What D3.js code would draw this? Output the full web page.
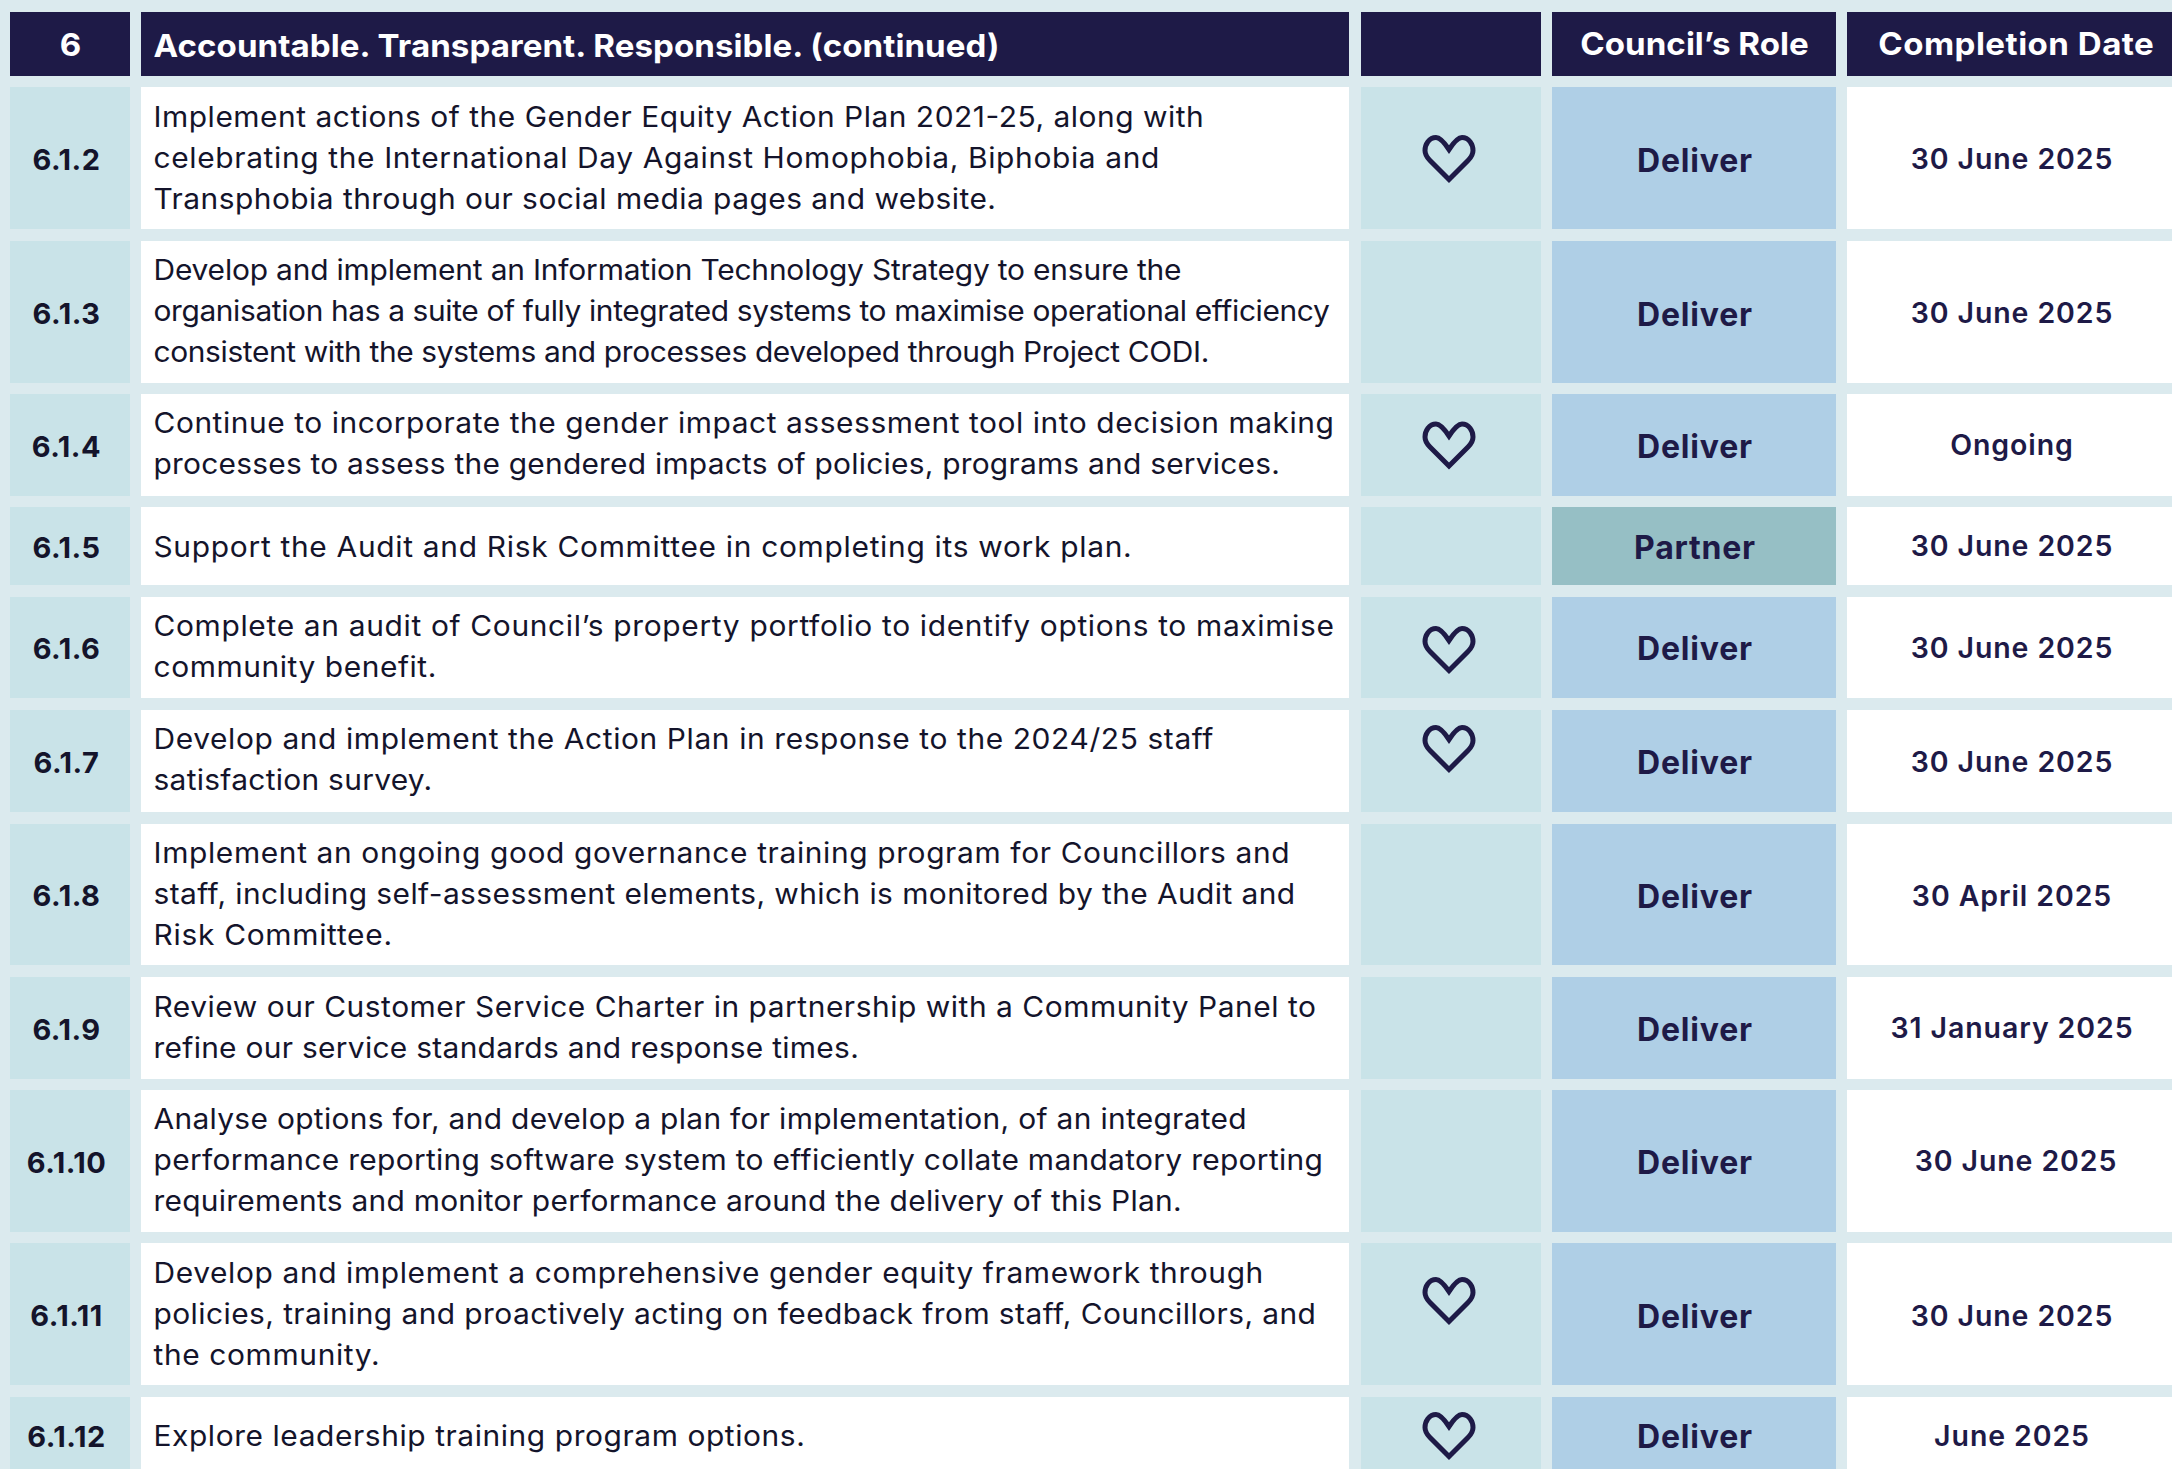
<!DOCTYPE html>
<html><head><meta charset="utf-8">
<script src="https://cdnjs.cloudflare.com/ajax/libs/d3/7.8.5/d3.min.js"></script>
<style>html,body{margin:0;padding:0;background:#DBEAEE;overflow:hidden}svg{display:block}</style>
</head><body><script>
const headerLabels=["6","Accountable. Transparent. Responsible. (continued)","","Council’s Role","Completion Date"];
const ids=["6.1.2","6.1.3","6.1.4","6.1.5","6.1.6","6.1.7","6.1.8","6.1.9","6.1.10","6.1.11","6.1.12"];
const actions=[
["Implement actions of the Gender Equity Action Plan 2021-25, along with","celebrating the International Day Against Homophobia, Biphobia and","Transphobia through our social media pages and website."],
["Develop and implement an Information Technology Strategy to ensure the","organisation has a suite of fully integrated systems to maximise operational efficiency","consistent with the systems and processes developed through Project CODI."],
["Continue to incorporate the gender impact assessment tool into decision making","processes to assess the gendered impacts of policies, programs and services."],
["Support the Audit and Risk Committee in completing its work plan."],
["Complete an audit of Council’s property portfolio to identify options to maximise","community benefit."],
["Develop and implement the Action Plan in response to the 2024/25 staff","satisfaction survey."],
["Implement an ongoing good governance training program for Councillors and","staff, including self-assessment elements, which is monitored by the Audit and","Risk Committee."],
["Review our Customer Service Charter in partnership with a Community Panel to","refine our service standards and response times."],
["Analyse options for, and develop a plan for implementation, of an integrated","performance reporting software system to efficiently collate mandatory reporting","requirements and monitor performance around the delivery of this Plan."],
["Develop and implement a comprehensive gender equity framework through","policies, training and proactively acting on feedback from staff, Councillors, and","the community."],
["Explore leadership training program options."]];
const hearts=[1,0,1,0,1,1,0,0,0,1,1];
const roles=["Deliver","Deliver","Deliver","Partner","Deliver","Deliver","Deliver","Deliver","Deliver","Deliver","Deliver"];
const dates=["30 June 2025","30 June 2025","Ongoing","30 June 2025","30 June 2025","30 June 2025","30 April 2025","31 January 2025","30 June 2025","30 June 2025","June 2025"];

// layout (pixels, separate from the values above)
const W=2172,H=1469,S=2172/1568,SX=1.05;
const cols=["id","action","heart","role","date"];
const colLeft=d3.scaleOrdinal().domain(cols).range([10,141,1361,1552,1847]);
const colRight=d3.scaleOrdinal().domain(cols).range([130,1349,1541,1836,2172]);
const rowTop=d3.scaleOrdinal().domain(ids).range([87,241,394,507,597,710,824,977,1090,1243,1397]);
const rowBot=d3.scaleOrdinal().domain(ids).range([229,383,496,585,698,812,965,1079,1232,1385,1480]);
const lineEnds=[[869,837,719],[853,960,873],[963,924],[817],[963,315],[876,312],[931,935,283],[950,620],[900,955,853],[912,950,274],[581]];
const textShift=[-0.2,-1.4,-1.5,0.5,-1.5,-1.3,-0.8,-0.7,-0.7,-0.2,1.2];
const roleShift=[14.2,14.2,13,13,12.8,13,13,12.5,12.9,14,13];
const dateShift=[11,11,10,10,10,10.5,11.5,10,10,12,11];
const heartCentre={"6.1.2":158.5,"6.1.4":445,"6.1.6":649.5,"6.1.7":748.5,"6.1.11":1300.5,"6.1.12":1435.5};
const roleFill=d3.scaleOrdinal().domain(["Deliver","Partner"]).range(["#AFCFE6","#96BFC5"]);
const navy="#1E1A47", ink="#14142b", font="Inter, sans-serif", textX=153.5;
const svg=d3.select("body").append("svg").attr("width",W).attr("height",H);
svg.append("rect").attr("width",W).attr("height",H).attr("fill","#DBEAEE");
// header
const hdr=svg.append("g");
hdr.selectAll("rect").data(cols).join("rect")
 .attr("x",colLeft).attr("y",12).attr("width",c=>colRight(c)-colLeft(c)).attr("height",64).attr("fill",navy);
const hdrX=[70.6,153.5,0,1694.5,2016], hdrY=[56,57,54,54.5,54.5], hdrLen=[null,846,null,228.5,275.6];
hdr.selectAll("text").data(cols).join("text")
 .attr("transform",(c,i)=>`translate(${hdrX[i]},${hdrY[i]}) scale(${SX},1)`)
 .attr("text-anchor",(c,i)=>i==1?"start":"middle")
 .attr("fill","#fff").attr("font-family",font).attr("font-weight",700).attr("font-size",31.5)
 .each(function(c,i){if(hdrLen[i])d3.select(this).attr("textLength",hdrLen[i]/SX).attr("lengthAdjust","spacing");})
 .text((c,i)=>headerLabels[i]);
// rows
const rows=svg.selectAll("g.row").data(ids.map((id,i)=>({id,i,lines:actions[i],heart:hearts[i],role:roles[i],date:dates[i]}))).join("g").attr("class","row");
const cell=(c,fill)=>rows.append("rect").attr("x",colLeft(c)).attr("y",d=>rowTop(d.id)).attr("width",colRight(c)-colLeft(c)).attr("height",d=>rowBot(d.id)-rowTop(d.id)).attr("fill",fill);
cell("id","#C9E3E8");cell("action","#fff");cell("heart","#C9E3E8");
cell("role",d=>roleFill(d.role));cell("date","#fff");
const mid=d=>d.id=="6.1.12"?1435:(rowTop(d.id)+rowBot(d.id))/2;
rows.append("text").attr("x",66.5).attr("y",d=>mid(d)+11.5).attr("text-anchor","middle")
 .attr("font-family",font).attr("font-weight",700).attr("font-size",29).attr("letter-spacing",0.5).attr("fill",ink).text(d=>d.id);
rows.each(function(d){
 const n=d.lines.length, base=mid(d)+10-(n-1)*20.5+textShift[d.i];
 d3.select(this).selectAll("text.l").data(d.lines).join("text").attr("class","l")
  .attr("transform",(l,i)=>`translate(${textX},${base+i*41}) scale(${SX},1)`)
  .attr("font-family",font).attr("font-size",28.5)
  .attr("textLength",(l,i)=>(lineEnds[d.i][i]*S-textX)/SX).attr("lengthAdjust","spacing")
  .attr("fill",ink).text(l=>l);
});
const heart="M0,-9 C-4,-15 -9,-21 -13,-21 C-20,-21 -24,-14 -24,-8 C-24,-3 -21,0 -19,2 L0,21 L19,2 C21,0 24,-3 24,-8 C24,-14 20,-21 13,-21 C9,-21 4,-15 0,-9 Z";
rows.filter(d=>d.heart).append("path").attr("d",heart)
 .attr("transform",d=>`translate(1449,${heartCentre[d.id]})`)
 .attr("fill","none").attr("stroke",navy).attr("stroke-width",5).attr("stroke-linejoin","miter");
rows.append("text").attr("x",1695).attr("y",d=>mid(d)+roleShift[d.i]).attr("text-anchor","middle")
 .attr("font-family",font).attr("font-weight",700).attr("font-size",32).attr("letter-spacing",0.8).attr("fill",navy).text(d=>d.role);
rows.append("text").attr("x",d=>d.id=="6.1.10"?2016:2012).attr("y",d=>mid(d)+dateShift[d.i]).attr("text-anchor","middle")
 .attr("font-family",font).attr("font-weight",600).attr("font-size",28.5).attr("letter-spacing",0.9).attr("fill",navy).text(d=>d.date);
</script></body></html>
